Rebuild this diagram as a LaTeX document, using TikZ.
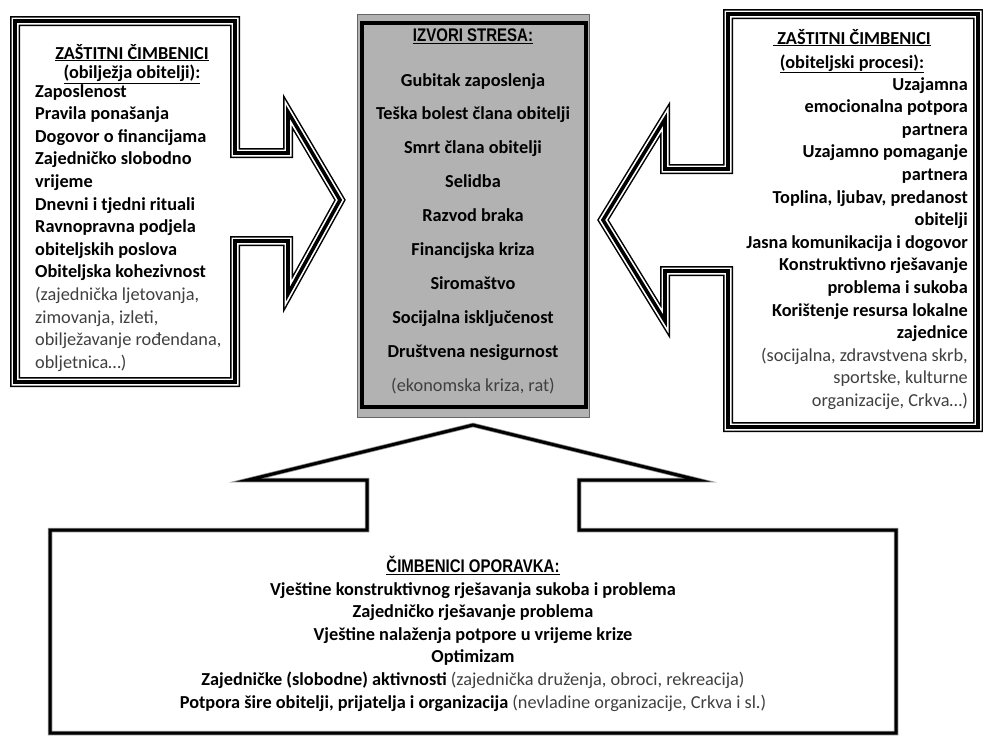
\documentclass[tikz,border=0pt]{standalone}
\usepackage{fontspec}
\setmainfont{Carlito}
\newfontfamily\headfont[FakeStretch=0.82]{Liberation Sans}
\usetikzlibrary{positioning}

\newcommand{\paren}[1]{{\mdseries\color{black!75}#1}}

\begin{document}
\begin{tikzpicture}[
    x=1pt, y=-1pt, % pixel-like units
    every node/.style={inner sep=0pt},
    item/.style={font=\fontsize{18.3}{22.6}\selectfont\bfseries},
    title/.style={font=\fontsize{18.3}{20}\selectfont\bfseries},
    caption/.style={font=\fontsize{18.3}{20}\selectfont\headfont\bfseries},
    triple/.style={preaction={fill=white}, preaction={draw, line width=10pt},
        preaction={draw=white, line width=7pt}, draw, line width=3.6pt},
    thickthin/.style={preaction={fill=white}, preaction={draw=black!45, line width=4.5pt},
        draw, line width=3pt}
]
    \useasboundingbox (0,0) rectangle (983,736);

    % left callout
    \path[triple] (15,21) -- (235,21) -- (235,153) -- (288,153) -- (288,112)
        -- (340,200) -- (288,294) -- (288,241) -- (235,241) -- (235,382)
        -- (15,382) -- cycle;

    % right callout
    \path[triple] (978,14) -- (728,14) -- (728,169) -- (665,169) -- (665,119)
        -- (603,220) -- (665,321) -- (665,271) -- (728,271) -- (728,427)
        -- (978,427) -- cycle;

    % bottom callout
    \path[thickthin] (50,733) -- (50,530) -- (367,530) -- (367,480) -- (248,480)
        -- (473,425) -- (698,480) -- (579,480) -- (579,530) -- (896,530)
        -- (896,733) -- cycle;

    % centre box
    \path[fill=black!30, draw=black!60, line width=1pt] (357.5,14.5) rectangle (589.5,417.5);
    \draw[line width=4pt] (362,23) rectangle (585.5,407);

    % left texts
    \node (lefttitle) [title, anchor=base] at (132,59) {\underline{ZAŠTITNI ČIMBENICI}};
    \node (leftsub) [title, anchor=base] at (132,78.5) {\underline{(obilježja obitelji):}};
    \node (leftlist) [item, align=left, anchor=north west] at (35,84) {Zaposlenost\\
        Pravila ponašanja\\
        Dogovor o financijama\\
        Zajedničko slobodno\\
        vrijeme\\
        Dnevni i tjedni rituali\\
        Ravnopravna podjela\\
        obiteljskih poslova\\
        Obiteljska kohezivnost\\
        \paren{(zajednička ljetovanja,}\\
        \paren{zimovanja, izleti,}\\
        \paren{obilježavanje rođendana,}\\
        \paren{obljetnica…)}};

    % centre texts
    \node (stresstitle) [caption, anchor=base] at (473,41.5) {\underline{IZVORI STRESA:}};
    \node (stresslist) [item, align=center, anchor=north,
        font=\fontsize{18.3}{33.9}\selectfont\bfseries] at (473,73) {Gubitak zaposlenja\\
        Teška bolest člana obitelji\\
        Smrt člana obitelji\\
        Selidba\\
        Razvod braka\\
        Financijska kriza\\
        Siromaštvo\\
        Socijalna isključenost\\
        Društvena nesigurnost\\
        \paren{(ekonomska kriza, rat)}};

    % right texts
    \node (righttitle) [title, anchor=base] at (852,44) {\underline{\ ZAŠTITNI ČIMBENICI}};
    \node (rightsub) [title, anchor=base] at (852,68) {\underline{(obiteljski procesi):}};
    \node (rightlist) [item, align=right, anchor=north east] at (968,77) {Uzajamna\\
        emocionalna potpora\\
        partnera\\
        Uzajamno pomaganje\\
        partnera\\
        Toplina, ljubav, predanost\\
        obitelji\\
        Jasna komunikacija i dogovor\\
        Konstruktivno rješavanje\\
        problema i sukoba\\
        Korištenje resursa lokalne\\
        zajednice\\
        \paren{(socijalna, zdravstvena skrb,}\\
        \paren{sportske, kulturne}\\
        \paren{organizacije, Crkva…)}};

    % bottom texts
    \node (recoverytitle) [caption, anchor=base] at (473,572.5) {\underline{ČIMBENICI OPORAVKA:}};
    \node (recoverylist) [item, align=center, anchor=north] at (473,582) {Vještine konstruktivnog rješavanja sukoba i problema\\
        Zajedničko rješavanje problema\\
        Vještine nalaženja potpore u vrijeme krize\\
        Optimizam\\
        Zajedničke (slobodne) aktivnosti \paren{(zajednička druženja, obroci, rekreacija)}\\
        Potpora šire obitelji, prijatelja i organizacija \paren{(nevladine organizacije, Crkva i sl.)}};
\end{tikzpicture}
\end{document}
